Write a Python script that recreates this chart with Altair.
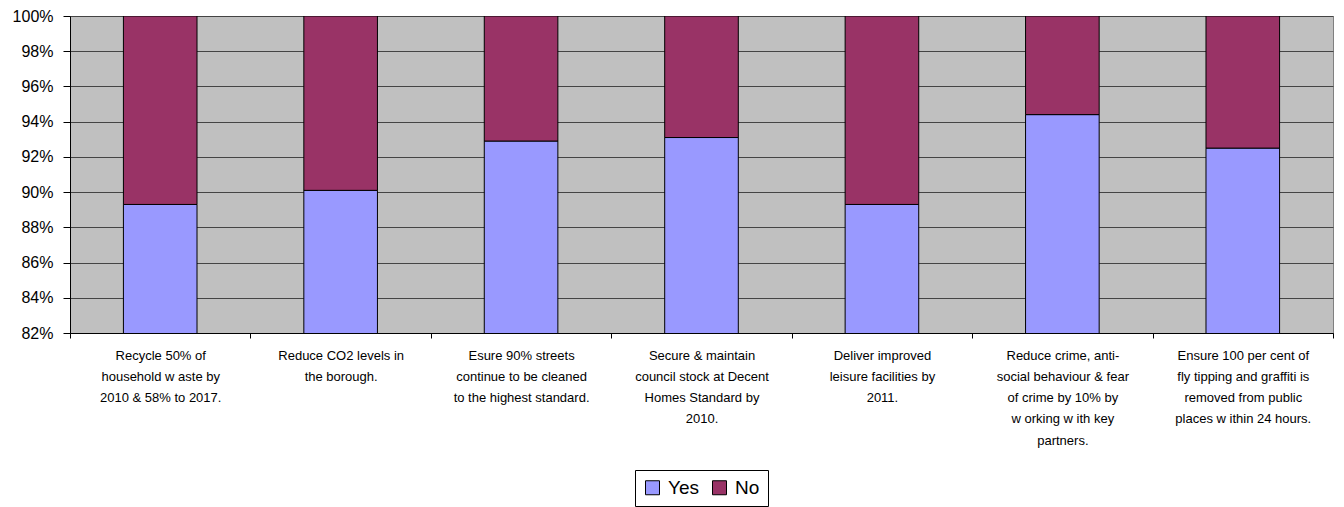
import altair as alt
import pandas as pd

# Council priorities (label lines separated by "|")
priorities = [
    "Recycle 50% of|household w aste by|2010 & 58%  to 2017.",
    "Reduce CO2  levels in|the borough.",
    "Esure 90% streets|continue to be cleaned|to the highest standard.",
    "Secure & maintain|council stock at Decent|Homes Standard by|2010.",
    "Deliver improved|leisure facilities by|2011.",
    "Reduce crime, anti-|social behaviour & fear|of crime by 10% by|w orking w ith key|partners.",
    "Ensure 100 per cent of|fly tipping and graffiti is|removed from public|places w ithin 24 hours.",
]
yes_pct = [89.3, 90.1, 92.9, 93.1, 89.3, 94.4, 92.5]
no_pct = [10.7, 9.9, 7.1, 6.9, 10.7, 5.6, 7.5]
answers = ["Yes", "No"]
answer_colors = ["#9999FF", "#993366"]

rows = []
for i, p in enumerate(priorities):
    rows.append({"priority": p, "answer": "Yes", "pct": yes_pct[i], "ord": 0})
    rows.append({"priority": p, "answer": "No", "pct": no_pct[i], "ord": 1})
df = pd.DataFrame(rows)

FONT = "Liberation Sans"

bars = alt.Chart(df).mark_bar(
    clip=True, width=73.6, stroke="black", strokeWidth=1
).encode(
    x=alt.X(
        "priority:N",
        sort=priorities,
        title=None,
        scale=alt.Scale(paddingInner=0, paddingOuter=0),
        axis=alt.Axis(
            labelAngle=0,
            labelExpr="split(datum.label, '|')",
            labelFont=FONT,
            labelFontSize=13,
            labelColor="black",
            labelLineHeight=21.3,
            labelBaseline="alphabetic",
            labelPadding=21,
            labelLimit=0,
            tickBand="extent",
            tickSize=5,
            tickColor="black",
            domainColor="black",
            grid=False,
        ),
    ),
    y=alt.Y(
        "pct:Q",
        stack="normalize",
        title=None,
        scale=alt.Scale(domain=[0.82, 1.0], nice=False, zero=False),
        axis=alt.Axis(
            values=[0.82, 0.84, 0.86, 0.88, 0.90, 0.92, 0.94, 0.96, 0.98, 1.0],
            format=".0%",
            labelFont=FONT,
            labelFontSize=16,
            labelColor="black",
            labelPadding=10,
            tickSize=7,
            tickColor="black",
            domainColor="black",
            grid=True,
            gridColor="#444444",
            gridWidth=1,
        ),
    ),
    color=alt.Color(
        "answer:N",
        scale=alt.Scale(domain=answers, range=answer_colors),
        legend=alt.Legend(
            title=None,
            orient="none",
            direction="horizontal",
            legendX=565,
            legendY=454,
            symbolType="square",
            symbolSize=196,
            symbolStrokeColor="black",
            symbolStrokeWidth=1,
            symbolOpacity=1,
            labelFont=FONT,
            labelFontSize=19,
            labelColor="black",
            labelOffset=6,
            columnPadding=11,
            padding=8,
            strokeColor="black",
            fillColor="white",
        ),
    ),
    order=alt.Order("ord:Q"),
)

chart = bars.properties(
    width=1263,
    height=317,
    background="white",
    view=alt.ViewBackground(fill="#C0C0C0", stroke="#808080", strokeWidth=1),
    padding={"left": 70, "top": 16, "right": 11, "bottom": 174},
    autosize=alt.AutoSizeParams(type="none"),
)

chart.save("out.html", embed_options={"renderer": "svg", "actions": False})
